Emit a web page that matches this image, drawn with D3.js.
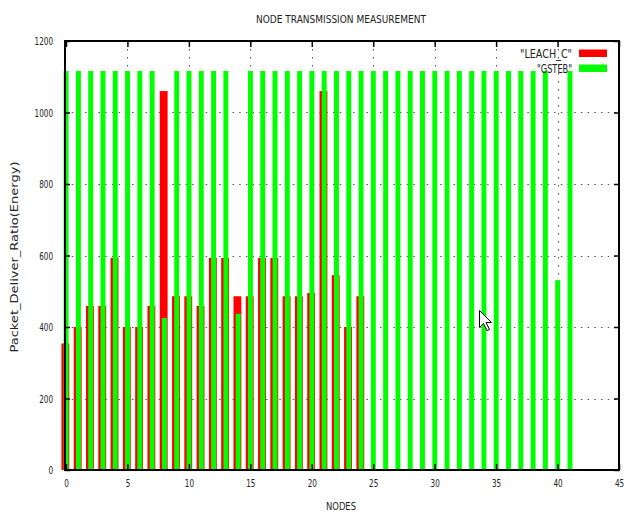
<!DOCTYPE html>
<html>
<head>
<meta charset="utf-8">
<script src="https://cdn.jsdelivr.net/npm/d3@7"></script>
<style>
  html, body { margin: 0; padding: 0; background: #fff; }
  svg { display: block; }
  text { font-family: "DejaVu Sans Condensed", "Liberation Sans Narrow", sans-serif; fill: #222; }
</style>
</head>
<body>
<script>
// ---- data ----
const title = "NODE TRANSMISSION MEASUREMENT";
const xLabel = "NODES";
const yLabel = "Packet_Deliver_Ratio(Energy)";
const seriesNames = ['"LEACH_C"', '"GSTEB"'];
const nodes = [0,1,2,3,4,5,6,7,8,9,10,11,12,13,14,15,16,17,18,19,20,
               21,22,23,24,25,26,27,28,29,30,31,32,33,34,35,36,37,38,39,40,41];
const leachNodes = [0,1,2,3,4,5,6,7,8,9,10,11,12,13,14,15,16,17,18,19,20,21,22,23,24];
const leachC = [354, 400, 459, 459, 593, 400, 400, 459, 1060, 486, 486, 459, 593, 593,
                486, 486, 593, 593, 486, 486, 495, 1060, 545, 400, 486];
const gsteb = [1116, 1116, 1116, 1116, 1116, 1116, 1116, 1116, 425, 1116, 1116, 1116, 1116, 1116,
               437, 1116, 1116, 1116, 1116, 1116, 1116, 1116, 1116, 1116, 1116, 1116, 1116, 1116,
               1116, 1116, 1116, 1116, 1116, 1116, 1116, 1116, 1116, 1116, 1116, 1116, 531, 1116];
const xTicks = [0, 5, 10, 15, 20, 25, 30, 35, 40, 45];
const yTicks = [0, 200, 400, 600, 800, 1000, 1200];
const colors = ["#ff0000", "#00ff00"];

// ---- layout ----
const W = 627, H = 513;
const L = 65, R = 619, T = 41, B = 470;

const svg = d3.select("body").append("svg").attr("width", W).attr("height", H);

const x = d3.scaleLinear().domain([-0.08, 45]).range([L, R]);
const y = d3.scaleLinear().domain([0, 1200]).range([B, T]);

// grid (behind bars)
const grid = svg.append("g");
grid.selectAll("line.hg").data(yTicks.filter(v => v > 0 && v < 1200)).enter().append("line")
  .attr("x1", L).attr("x2", R).attr("y1", d => Math.round(y(d)) + 0.5).attr("y2", d => Math.round(y(d)) + 0.5)
  .attr("stroke", "#555").attr("stroke-width", 1).attr("stroke-dasharray", "1.5 5.2");
grid.selectAll("line.vg").data(xTicks.filter(v => v > 0 && v < 45)).enter().append("line")
  .attr("y1", T).attr("y2", B).attr("x1", d => Math.round(x(d)) + 0.5).attr("x2", d => Math.round(x(d)) + 0.5)
  .attr("stroke", "#555").attr("stroke-width", 1).attr("stroke-dasharray", "1.5 6.5");

// bars: red first, green on top
const redW = 0.64, redOff = -0.37, greenW = 0.40, greenOff = -0.19;
svg.append("g").selectAll("rect").data(leachNodes).enter().append("rect")
  .attr("x", (d) => x(d + redOff))
  .attr("width", x(redW) - x(0))
  .attr("y", (d, i) => y(leachC[i]))
  .attr("height", (d, i) => y(0) - y(leachC[i]))
  .attr("fill", colors[0]);
svg.append("g").selectAll("rect").data(nodes).enter().append("rect")
  .attr("x", (d) => x(d + greenOff))
  .attr("width", x(greenW) - x(0))
  .attr("y", (d, i) => y(gsteb[i]))
  .attr("height", (d, i) => y(0) - y(gsteb[i]))
  .attr("fill", colors[1]);

// axes (border + inward ticks on all sides)
const axB = d3.axisBottom(x).tickValues(xTicks).tickSize(-6).tickPadding(9).tickFormat(d3.format("d"));
const axT = d3.axisTop(x).tickValues(xTicks).tickSize(-6).tickFormat("");
const axLft = d3.axisLeft(y).tickValues(yTicks).tickSize(-5).tickPadding(12).tickFormat(d3.format("d"));
const axRt = d3.axisRight(y).tickValues(yTicks).tickSize(-5).tickFormat("");

function styleAxis(g) {
  g.select(".domain").remove();
  g.selectAll(".tick line").attr("stroke", "#000").attr("stroke-width", 1.5);
  g.selectAll(".tick text").attr("font-size", 11).attr("fill", "#222")
    .attr("font-family", "\"DejaVu Sans Condensed\", \"Liberation Sans Narrow\", sans-serif")
    .each(function() {
      const t = d3.select(this);
      const s = t.text();
      if (s.length) t.attr("textLength", s.length * 4.6).attr("lengthAdjust", "spacingAndGlyphs");
    });
}
svg.append("g").attr("transform", `translate(0,${B})`).call(axB).call(styleAxis);
svg.append("g").attr("transform", `translate(0,${T})`).call(axT).call(styleAxis);
svg.append("g").attr("transform", `translate(${L},0)`).call(axLft).call(styleAxis);
svg.append("g").attr("transform", `translate(${R},0)`).call(axRt).call(styleAxis);

svg.append("rect").attr("x", L).attr("y", T).attr("width", R - L).attr("height", B - T)
  .attr("fill", "none").attr("stroke", "#000").attr("stroke-width", 2);

// title and labels
svg.append("text").attr("x", 341).attr("y", 23).attr("text-anchor", "middle")
  .attr("font-size", 10.5).attr("textLength", 170).attr("lengthAdjust", "spacingAndGlyphs").text(title);
svg.append("text").attr("x", 341).attr("y", 510).attr("text-anchor", "middle")
  .attr("font-size", 11).attr("textLength", 30).attr("lengthAdjust", "spacingAndGlyphs").text(xLabel);
svg.append("text").attr("transform", "translate(17.5,257) rotate(-90)").attr("text-anchor", "middle")
  .attr("font-size", 11).attr("textLength", 191).attr("lengthAdjust", "spacingAndGlyphs").text(yLabel);

// legend
const lg = svg.append("g");
const rowsY = [57.5, 72.5];
const legendLen = [52, 35];
seriesNames.forEach((s, i) => {
  lg.append("text").attr("x", 572).attr("y", rowsY[i]).attr("text-anchor", "end")
    .attr("font-size", 12).attr("textLength", legendLen[i]).attr("lengthAdjust", "spacingAndGlyphs").text(s);
  lg.append("rect").attr("x", 579).attr("y", rowsY[i] - 8).attr("width", 28).attr("height", 7.5)
    .attr("fill", colors[i]);
});

// mouse pointer visible in the original screenshot
svg.append("path")
  .attr("transform", "translate(479.5,310.5)")
  .attr("d", "M0,0 L0,17 L4,13 L7.5,20 L10,19 L6.5,12 L12,12 Z")
  .attr("fill", "#fff").attr("stroke", "#000").attr("stroke-width", 1);
</script>
</body>
</html>
